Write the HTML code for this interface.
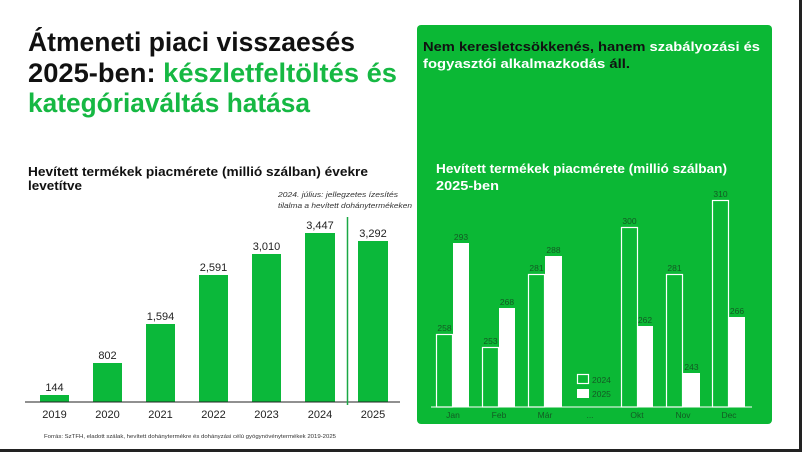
<!DOCTYPE html>
<html><head><meta charset="utf-8"><style>
html,body{margin:0;padding:0;background:#fff;}
svg{display:block;font-family:"Liberation Sans",sans-serif;}
</style></head><body>
<svg width="802" height="452" viewBox="0 0 802 452" xmlns="http://www.w3.org/2000/svg">
<rect width="802" height="452" fill="#fff"/>
<rect x="799" y="0" width="3" height="452" fill="#222"/>
<rect x="0" y="449" width="802" height="3" fill="#222"/>

<g font-weight="bold" font-size="27">
<text x="28" y="51" textLength="327" lengthAdjust="spacingAndGlyphs" fill="#111">Átmeneti piaci visszaesés</text>
<text x="28" y="82" textLength="369" lengthAdjust="spacingAndGlyphs" fill="#111">2025-ben: <tspan fill="#16b843">készletfeltöltés és</tspan></text>
<text x="28" y="112" textLength="282" lengthAdjust="spacingAndGlyphs" fill="#16b843">kategóriaváltás hatása</text>
</g>

<g font-weight="bold" font-size="13" fill="#111">
<text x="28" y="176" textLength="340" lengthAdjust="spacingAndGlyphs">Hevített termékek piacmérete (millió szálban) évekre</text>
<text x="28" y="190" textLength="54" lengthAdjust="spacingAndGlyphs">levetítve</text>
</g>
<g font-style="italic" font-size="7.5" fill="#333">
<text x="278" y="197" textLength="120" lengthAdjust="spacingAndGlyphs">2024. július: jellegzetes ízesítés</text>
<text x="278" y="208" textLength="134" lengthAdjust="spacingAndGlyphs">tilalma a hevített dohánytermékeken</text>
</g>

<g fill="#0bb83a">
<rect x="40" y="395" width="29" height="7"/>
<rect x="93" y="363" width="29" height="39"/>
<rect x="146" y="324" width="29" height="78"/>
<rect x="199" y="275" width="29" height="127"/>
<rect x="252" y="254" width="29" height="148"/>
<rect x="305" y="233" width="30" height="169"/>
<rect x="358" y="241" width="30" height="161"/>
</g>
<line x1="25" y1="402" x2="400" y2="402" stroke="#222" stroke-width="1"/>
<line x1="347.5" y1="217" x2="347.5" y2="405" stroke="#1aa845" stroke-width="1.5"/>
<g font-size="11" fill="#222" text-anchor="middle">
<text x="54.5" y="391">144</text>
<text x="107.5" y="359">802</text>
<text x="160.5" y="320">1,594</text>
<text x="213.5" y="271">2,591</text>
<text x="266.5" y="250">3,010</text>
<text x="320" y="229">3,447</text>
<text x="373" y="237">3,292</text>
</g>
<g font-size="11" fill="#222" text-anchor="middle">
<text x="54.5" y="418">2019</text>
<text x="107.5" y="418">2020</text>
<text x="160.5" y="418">2021</text>
<text x="213.5" y="418">2022</text>
<text x="266.5" y="418">2023</text>
<text x="320" y="418">2024</text>
<text x="373" y="418">2025</text>
</g>
<text x="44" y="438" font-size="5.5" fill="#333" textLength="292" lengthAdjust="spacingAndGlyphs">Forrás: SzTFH, eladott szálak, hevített dohánytermékre és dohányzási célú gyógynövénytermékek  2019-2025</text>

<rect x="417" y="25" width="355" height="399" rx="4" fill="#0bb835"/>
<g font-weight="bold" font-size="13">
<text x="423" y="51" textLength="337" lengthAdjust="spacingAndGlyphs" fill="#111">Nem keresletcsökkenés, hanem <tspan fill="#fff">szabályozási és</tspan></text>
<text x="423" y="68" textLength="207" lengthAdjust="spacingAndGlyphs" fill="#fff">fogyasztói alkalmazkodás <tspan fill="#111">áll.</tspan></text>
</g>
<g font-weight="bold" font-size="13" fill="#fff">
<text x="436" y="173" textLength="291" lengthAdjust="spacingAndGlyphs">Hevített termékek piacmérete (millió szálban)</text>
<text x="436" y="190" textLength="63" lengthAdjust="spacingAndGlyphs">2025-ben</text>
</g>
<g fill="none" stroke="#fff" stroke-width="1.2">
<rect x="436.5" y="334.5" width="16" height="72.5"/>
<rect x="482.5" y="347.5" width="16" height="59.5"/>
<rect x="528.5" y="274.5" width="16" height="132.5"/>
<rect x="621.5" y="227.5" width="16" height="179.5"/>
<rect x="666.5" y="274.5" width="16" height="132.5"/>
<rect x="712.5" y="200.5" width="16" height="206.5"/>
<rect x="577.5" y="374.5" width="11" height="9"/>
</g>
<g fill="#fff">
<rect x="453" y="243" width="16" height="164"/>
<rect x="499" y="308" width="16" height="99"/>
<rect x="545" y="256" width="17" height="151"/>
<rect x="637" y="326" width="16" height="81"/>
<rect x="683" y="373" width="17" height="34"/>
<rect x="729" y="317" width="16" height="90"/>
<rect x="577" y="389" width="12" height="9"/>
</g>
<line x1="431" y1="407" x2="752" y2="407" stroke="#fff" stroke-width="1"/>
<g font-size="8.5" fill="#145a24" text-anchor="middle">
<text x="444.5" y="331">258</text>
<text x="461" y="240">293</text>
<text x="490.5" y="344">253</text>
<text x="507" y="305">268</text>
<text x="536.5" y="271">281</text>
<text x="553.5" y="253">288</text>
<text x="629.5" y="224">300</text>
<text x="645" y="323">262</text>
<text x="674.5" y="271">281</text>
<text x="691.5" y="370">243</text>
<text x="720.5" y="197">310</text>
<text x="737" y="314">266</text>
<text x="453" y="418">Jan</text>
<text x="499" y="418">Feb</text>
<text x="545" y="418">Már</text>
<text x="590" y="418">...</text>
<text x="637" y="418">Okt</text>
<text x="683" y="418">Nov</text>
<text x="729" y="418">Dec</text>
</g>
<g font-size="8.5" fill="#145a24">
<text x="592" y="383">2024</text>
<text x="592" y="397">2025</text>
</g>
</svg>
</body></html>
